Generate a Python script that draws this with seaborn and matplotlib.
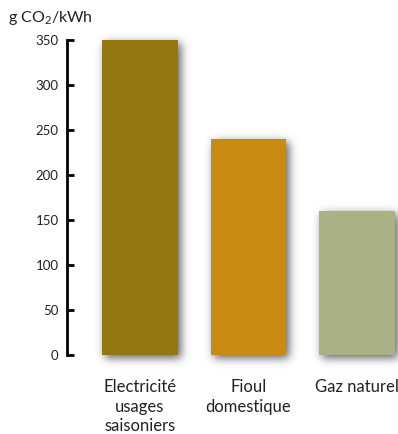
import numpy as np
import pandas as pd
import matplotlib
matplotlib.use("Agg")
import matplotlib.pyplot as plt
import seaborn as sns

categories = ["Electricité\nusages\nsaisoniers", "Fioul\ndomestique", "Gaz naturel"]
values = [350, 240, 160]
colors = ["#94770F", "#C98A10", "#AAB285"]
yticks = [0, 50, 100, 150, 200, 250, 300, 350]
unit_label = "g CO$_2$/kWh"

sns.set_theme(style="white")
plt.rcParams["font.family"] = ["Lato", "DejaVu Sans"]
plt.rcParams["mathtext.fontset"] = "custom"
plt.rcParams["mathtext.rm"] = "Lato"

W, H, DPI = 398, 434, 100
fig = plt.figure(figsize=(W / DPI, H / DPI), dpi=DPI)
fig.patch.set_facecolor("white")

# background layer for the bar shadows
bg = fig.add_axes([0, 0, 1, 1], zorder=-1)
bg.set_axis_off()

ax = fig.add_axes([67 / W, 79 / H, 331 / W, 315 / H], zorder=1)
ax.patch.set_visible(False)

df = pd.DataFrame({"cat": categories, "val": values})
sns.barplot(data=df, x="cat", y="val", hue="cat", palette=colors,
            saturation=1, width=0.70, legend=False, ax=ax, zorder=3,
            linewidth=0, edgecolor="none")

ax.set_xlim(-0.673, 2.378)
ax.set_ylim(0, 350)
ax.set_yticks(yticks)
ax.set_xlabel("")
ax.set_ylabel("")
for s in ["top", "right", "bottom"]:
    ax.spines[s].set_visible(False)
ax.spines["left"].set_linewidth(2)
ax.spines["left"].set_color("black")
ax.tick_params(axis="y", direction="in", length=5, width=2, color="black",
               labelsize=9.5, labelcolor="#222222", pad=6, left=True)
ax.tick_params(axis="x", length=0, labelsize=12, labelcolor="#222222", pad=17)
for t in ax.get_xticklabels():
    t.set_linespacing(1.3)
    t.set_verticalalignment("top")

fig.text(8 / W, 1 - 18 / H, unit_label, fontsize=11.5, color="#222222",
         ha="left", va="center")

# Soft drop shadow under each bar, built in pixel space and blurred
fig.canvas.draw()
alpha = np.zeros((H, W))
off = 3
for p in ax.patches:
    x0, y0 = ax.transData.transform((p.get_x(), p.get_y()))
    x1, y1 = ax.transData.transform((p.get_x() + p.get_width(), p.get_y() + p.get_height()))
    c0, c1 = int(round(x0)) + off, int(round(x1)) + off
    r0, r1 = int(round(H - y1)) + off, int(round(H - y0)) + off
    alpha[max(r0, 0):min(r1, H), max(c0, 0):min(c1, W)] = 1.0

sigma = 4.5
k = np.arange(-15, 16)
kern = np.exp(-0.5 * (k / sigma) ** 2)
kern /= kern.sum()
pad = np.pad(alpha, 15)
blur = np.apply_along_axis(lambda r: np.convolve(r, kern, mode="same"), 1, pad)
blur = np.apply_along_axis(lambda c: np.convolve(c, kern, mode="same"), 0, blur)
blur = blur[15:-15, 15:-15]

img = np.zeros((H, W, 4))
img[..., 0] = 0.30
img[..., 1] = 0.30
img[..., 2] = 0.35
img[..., 3] = np.clip(blur * 0.9, 0, 1)
bg.imshow(img, extent=(0, 1, 0, 1), aspect="auto", interpolation="none", origin="upper")
bg.set_xlim(0, 1)
bg.set_ylim(0, 1)

fig.savefig("out.png", dpi=DPI, facecolor="white")
